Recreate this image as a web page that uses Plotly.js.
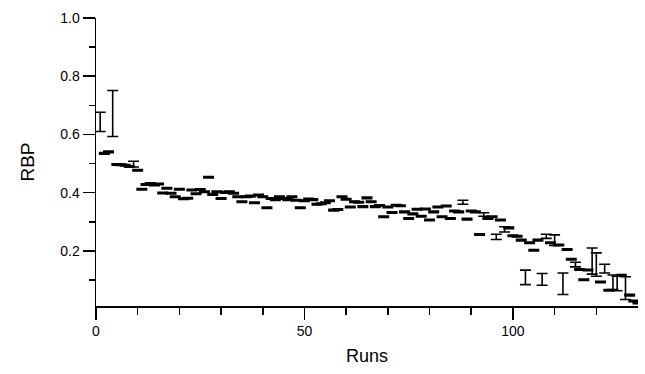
<!DOCTYPE html>
<html>
<head>
<meta charset="utf-8">
<script src="https://cdn.plot.ly/plotly-3.0.1.min.js"></script>
<style>html,body{margin:0;padding:0;background:#fff;}#chart{width:645px;height:374px;}</style>
</head>
<body>
<div id="chart"></div>
<script>
var runs = [];
for (var i = 1; i <= 130; i++) runs.push(i);

var rbp = [
  0.643, 0.535, 0.540, 0.672, 0.497, 0.496, 0.494, 0.490, 0.498, 0.477,
  0.412, 0.428, 0.431, 0.426, 0.430, 0.399, 0.415, 0.398, 0.386, 0.412,
  0.379, 0.381, 0.409, 0.396, 0.411, 0.403, 0.453, 0.394, 0.403, 0.380,
  0.401, 0.403, 0.398, 0.386, 0.369, 0.386, 0.388, 0.365, 0.392, 0.386,
  0.348, 0.380, 0.376, 0.386, 0.380, 0.376, 0.386, 0.374, 0.348, 0.372,
  0.378, 0.376, 0.360, 0.362, 0.365, 0.372, 0.340, 0.342, 0.386, 0.377,
  0.351, 0.369, 0.367, 0.352, 0.382, 0.369, 0.352, 0.356, 0.317, 0.351,
  0.332, 0.357, 0.355, 0.334, 0.311, 0.327, 0.343, 0.319, 0.344, 0.306,
  0.334, 0.351, 0.317, 0.354, 0.311, 0.337, 0.334, 0.367, 0.309, 0.337,
  0.334, 0.256, 0.325, 0.311, 0.317, 0.248, 0.306, 0.274, 0.279, 0.252,
  0.250, 0.237, 0.109, 0.228, 0.202, 0.237, 0.102, 0.250, 0.228, 0.237,
  0.220, 0.087, 0.205, 0.171, 0.153, 0.136, 0.101, 0.134, 0.165, 0.153,
  0.093, 0.139, 0.065, 0.092, 0.088, 0.116, 0.072, 0.048, 0.028, 0.021
];

var rbpErr = [
  0.033, 0.0025, 0.0025, 0.079, 0.0025, 0.0025, 0.0025, 0.0025, 0.010, 0.0025,
  0.0025, 0.0025, 0.0025, 0.0025, 0.0025, 0.0025, 0.0025, 0.0025, 0.0025, 0.0025,
  0.0025, 0.0025, 0.0025, 0.0025, 0.0025, 0.0025, 0.0025, 0.0025, 0.0025, 0.0025,
  0.0025, 0.0025, 0.0025, 0.0025, 0.0025, 0.0025, 0.0025, 0.0025, 0.0025, 0.0025,
  0.0025, 0.0025, 0.0025, 0.0025, 0.0025, 0.0025, 0.0025, 0.0025, 0.0025, 0.0025,
  0.0025, 0.0025, 0.0025, 0.0025, 0.0025, 0.0025, 0.0025, 0.0025, 0.0025, 0.0025,
  0.0025, 0.0025, 0.0025, 0.0025, 0.0025, 0.0025, 0.0025, 0.0025, 0.0025, 0.0025,
  0.0025, 0.0025, 0.0025, 0.0025, 0.0025, 0.0025, 0.0025, 0.0025, 0.0025, 0.0025,
  0.0025, 0.0025, 0.0025, 0.0025, 0.0025, 0.0025, 0.0025, 0.007, 0.0025, 0.0025,
  0.0025, 0.0025, 0.006, 0.0025, 0.0025, 0.009, 0.0025, 0.009, 0.0025, 0.0025,
  0.0025, 0.0025, 0.025, 0.0025, 0.0025, 0.0025, 0.020, 0.007, 0.0025, 0.018,
  0.0025, 0.037, 0.0025, 0.0025, 0.008, 0.0025, 0.0025, 0.0025, 0.045, 0.040,
  0.0025, 0.015, 0.0025, 0.025, 0.025, 0.0025, 0.039, 0.0025, 0.0025, 0.0025
];

var xTickVals = [0, 50, 100];
var xTickText = ['0', '50', '100'];
var yTickVals = [0.2, 0.4, 0.6, 0.8, 1.0];
var yTickText = ['0.2', '0.4', '0.6', '0.8', '1.0'];

var trace = {
  x: runs,
  y: rbp,
  type: 'scatter',
  mode: 'markers',
  marker: {size: 2, color: 'rgba(0,0,0,0)'},
  error_y: {type: 'data', array: rbpErr, visible: true, color: '#000', thickness: 1.6, width: 5.5},
  hoverinfo: 'x+y',
  showlegend: false
};

var font = {family: 'Liberation Sans, Arial, Helvetica, sans-serif', color: '#000', size: 14};

var layout = {
  width: 645, height: 374,
  margin: {l: 96, r: 7, t: 18, b: 68},
  paper_bgcolor: '#fff', plot_bgcolor: '#fff',
  font: font,
  showlegend: false,
  xaxis: {
    range: [0, 130],
    showgrid: false, zeroline: false,
    showline: true, linecolor: '#000', linewidth: 1.5,
    ticks: 'outside', ticklen: 12, tickwidth: 1.5, tickcolor: '#000',
    tickvals: xTickVals, ticktext: xTickText,
    minor: {tickvals: [10,20,30,40,60,70,80,90,110,120], ticks: 'outside', ticklen: 7, tickwidth: 1.5, tickcolor: '#000'},
    tickfont: {size: 14, color: '#000', family: font.family},
    title: {text: 'Runs', font: {size: 18, color: '#000', family: font.family}, standoff: 11}
  },
  yaxis: {
    range: [0.0106, 1.0],
    showgrid: false, zeroline: false,
    showline: true, linecolor: '#000', linewidth: 1.5,
    ticks: 'outside', ticklen: 12, tickwidth: 1.5, tickcolor: '#000',
    tickvals: yTickVals, ticktext: yTickText,
    minor: {tickvals: [0.1,0.3,0.5,0.7,0.9], ticks: 'outside', ticklen: 6, tickwidth: 1.5, tickcolor: '#000'},
    tickfont: {size: 14, color: '#000', family: font.family},
    title: {text: 'RBP', font: {size: 19, color: '#000', family: font.family}, standoff: 20}
  }
};

Plotly.newPlot('chart', [trace], layout, {staticPlot: true, displayModeBar: false});
</script>
</body>
</html>
